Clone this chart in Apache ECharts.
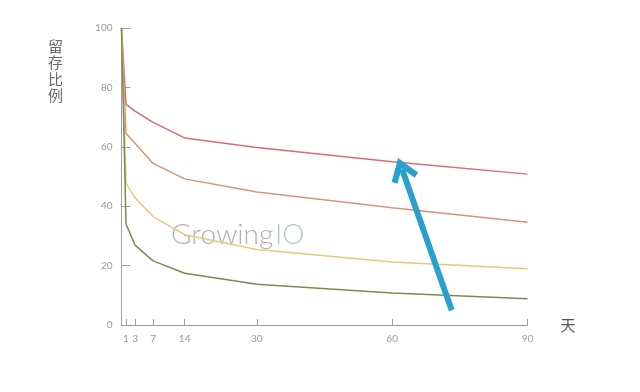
<!DOCTYPE html>
<html>
<head>
<meta charset="utf-8">
<script src="https://cdn.jsdelivr.net/npm/echarts@6/dist/echarts.min.js"></script>
<style>html,body{margin:0;padding:0;background:#fff;}#c{width:640px;height:392px;}</style>
</head>
<body>
<div id="c"></div>
<script>
const days = [0, 1, 3, 7, 14, 30, 60, 90];
const xTicks = [1, 3, 7, 14, 30, 60, 90];
const seriesRed = [100, 74.3, 72, 68.2, 63, 59.8, 55, 50.8];
const seriesOrange = [100, 64.5, 61.2, 54.4, 49.2, 44.8, 39.5, 34.6];
const seriesYellow = [100, 47.7, 42.8, 36.5, 30.4, 25.4, 21.2, 18.9];
const seriesGreen = [100, 34, 26.9, 21.6, 17.4, 13.7, 10.8, 8.8];
const arrowFrom = [73.2, 5.0];
const arrowTo = [62.2, 52.4];

function pts(vals) { return days.map((d, i) => [d, vals[i]]); }

const chart = echarts.init(document.getElementById('c'), null, {renderer: 'canvas'});
const lineS = (name, vals, color) => ({
  name, type: 'line', data: pts(vals), symbol: 'none', smooth: false,
  lineStyle: {color, width: 1.5}, itemStyle: {color}, z: 3
});
chart.setOption({
  animation: false,
  grid: {left: 121.5, right: 112.5, top: 28, bottom: 67},
  xAxis: {
    type: 'value', min: 0, max: 90,
    name: '天', nameLocation: 'end', nameGap: 33,
    nameTextStyle: {color: '#555', fontSize: 15, fontFamily: 'Noto Sans CJK SC', verticalAlign: 'middle'},
    axisLine: {show: true, lineStyle: {color: '#a0a0a0', width: 1}},
    axisTick: {show: true, inside: true, length: 6, customValues: xTicks, lineStyle: {color: '#a0a0a0'}},
    axisLabel: {customValues: xTicks, color: '#999', fontSize: 10, margin: 9, fontFamily: 'Lato'},
    splitLine: {show: false}
  },
  yAxis: {
    type: 'value', min: 0, max: 100, interval: 20,
    axisLine: {show: true, lineStyle: {color: '#a0a0a0', width: 1}},
    axisTick: {show: true, inside: true, length: 9, lineStyle: {color: '#a0a0a0'}},
    axisLabel: {color: '#999', fontSize: 10, margin: 9, fontFamily: 'Lato'},
    splitLine: {show: false}
  },
  graphic: [
    {type: 'text', left: 48, top: 38, style: {text: '留\n存\n比\n例', fill: '#6a6a6a', font: '15px "Noto Sans CJK SC"', lineHeight: 16.5}},
    {type: 'text', left: 171, top: 221, z: 1, style: {text: 'Growing', fill: '#b0b0b0', font: '300 28px Lato'}},
    {type: 'text', left: 275, top: 221, z: 1, style: {text: 'IO', fill: '#b5c8cc', font: '300 28px Lato'}}
  ],
  series: [
    lineS('red', seriesRed, '#dd6a6e'),
    lineS('orange', seriesOrange, '#d4947a'),
    lineS('yellow', seriesYellow, '#e0cc7c'),
    lineS('green', seriesGreen, '#7c8a4c'),
    {
      type: 'line', data: [], silent: true,
      markLine: {
        silent: true, animation: false,
        symbol: ['none', 'path://M0,14 L10,0 L20,14 L16.5,16.5 L10,7.5 L3.5,16.5 Z'], symbolSize: [28, 24],
        label: {show: false},
        lineStyle: {color: '#2aa0cc', width: 6, type: 'solid'},
        data: [[{coord: arrowFrom}, {coord: arrowTo}]]
      }
    }
  ]
});
</script>
</body>
</html>
